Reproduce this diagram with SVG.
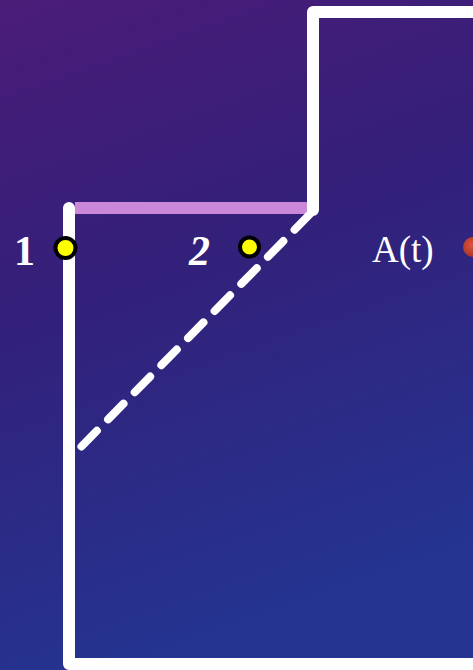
<svg xmlns="http://www.w3.org/2000/svg" width="473" height="670" viewBox="0 0 473 670">
  <defs>
    <linearGradient id="bg" x1="0" y1="0" x2="0.25" y2="1">
      <stop offset="0" stop-color="#4a1c78"/>
      <stop offset="0.45" stop-color="#33207a"/>
      <stop offset="1" stop-color="#243490"/>
    </linearGradient>
    <radialGradient id="red" cx="0.45" cy="0.4" r="0.6">
      <stop offset="0" stop-color="#e0553f"/>
      <stop offset="1" stop-color="#a83428"/>
    </radialGradient>
  </defs>
  <style>
    .wall { fill: none; stroke: #ffffff; stroke-width: 12; stroke-linejoin: round; stroke-linecap: round; }
    .dash { fill: none; stroke: #ffffff; stroke-width: 8; stroke-linecap: round; stroke-dasharray: 22 16; }
    .pt { fill: #ffff00; stroke: #000000; stroke-width: 4; }
    .lbl { fill: #ffffff; font-family: "Liberation Serif", "DejaVu Serif", serif; }
  </style>
  <rect x="0" y="0" width="473" height="670" fill="url(#bg)"/>
  <g id="connectors">
    <line x1="75" y1="208" x2="308" y2="208" stroke="#cc88d8" stroke-width="12"/>
    <path class="wall" d="M69,208 V664 H480"/>
    <path class="wall" d="M313,210 V12 H480"/>
    <line class="dash" x1="310" y1="214" x2="76" y2="452"/>
  </g>
  <g id="point1">
    <circle class="pt" cx="65.5" cy="248" r="10"/>
    <text class="lbl" x="14" y="265" font-size="42" font-weight="bold">1</text>
  </g>
  <g id="point2">
    <circle class="pt" cx="249.5" cy="247" r="9.5"/>
    <text class="lbl" x="189" y="265" font-size="42" font-weight="bold" font-style="italic">2</text>
  </g>
  <g id="pointA">
    <circle cx="473" cy="247" r="10" fill="url(#red)"/>
    <text class="lbl" x="372" y="262" font-size="37">A(t)</text>
  </g>
</svg>
